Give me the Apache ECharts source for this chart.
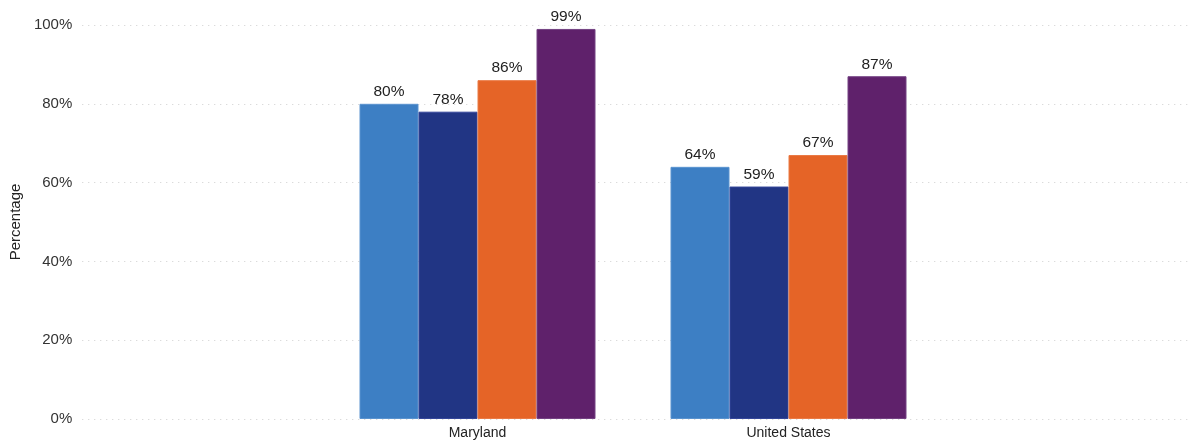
<!DOCTYPE html>
<html><head><meta charset="utf-8">
<script src="https://cdn.jsdelivr.net/npm/echarts@6/dist/echarts.min.js"></script>
<style>html,body{margin:0;padding:0;background:#fff}#c{width:1189px;height:442px}</style>
</head><body><div id="c"></div>
<script>
const categories = ['Maryland', 'United States'];
const seriesA = [80, 64];
const seriesB = [78, 59];
const seriesC = [86, 67];
const seriesD = [99, 87];
const yTicks = [0, 20, 40, 60, 80, 100];
const colors = ['#3d7fc4', '#213584', '#e56427', '#5f216b'];
const borders = ['#5a93cf', '#35479a', '#ea7a45', '#744283'];
const FONT = 'Arial, Liberation Sans, sans-serif';

const chart = echarts.init(document.getElementById('c'));
const mk = (data, i) => ({
  type: 'bar', xAxisIndex: 1, yAxisIndex: 1, data: data,
  barWidth: 59, barGap: '0%',
  itemStyle: { color: colors[i], borderColor: borders[i], borderWidth: 1 },
  label: { show: true, position: 'top', formatter: '{c}%', color: '#222', fontSize: 15.5, fontFamily: FONT, distance: 4 }
});
chart.setOption({
  animation: false,
  grid: [
    { left: 81, right: 1, top: 25, bottom: 23 },
    { left: 322, width: 622, top: 25, bottom: 23 }
  ],
  xAxis: [
    { type: 'category', gridIndex: 0, data: [''], show: false },
    { type: 'category', gridIndex: 1, data: categories,
      axisLine: { show: false }, axisTick: { show: false },
      axisLabel: { color: '#222', fontSize: 14, margin: 7, fontFamily: FONT } }
  ],
  yAxis: [
    { type: 'value', gridIndex: 0, min: yTicks[0], max: yTicks[yTicks.length-1], interval: 20,
      name: 'Percentage', nameLocation: 'middle', nameGap: 58, nameRotate: 90,
      nameTextStyle: { color: '#222', fontSize: 15, fontFamily: FONT },
      axisLine: { show: false }, axisTick: { show: false },
      axisLabel: { formatter: '{value}%', color: '#333', fontSize: 15, margin: 10, fontFamily: FONT },
      splitLine: { lineStyle: { type: [1, 5], color: '#cfcfcf', width: 1 } } },
    { type: 'value', gridIndex: 1, min: 0, max: 100, interval: 20, show: false, splitLine: { show: false } }
  ],
  series: [mk(seriesA, 0), mk(seriesB, 1), mk(seriesC, 2), mk(seriesD, 3)]
});
</script></body></html>
